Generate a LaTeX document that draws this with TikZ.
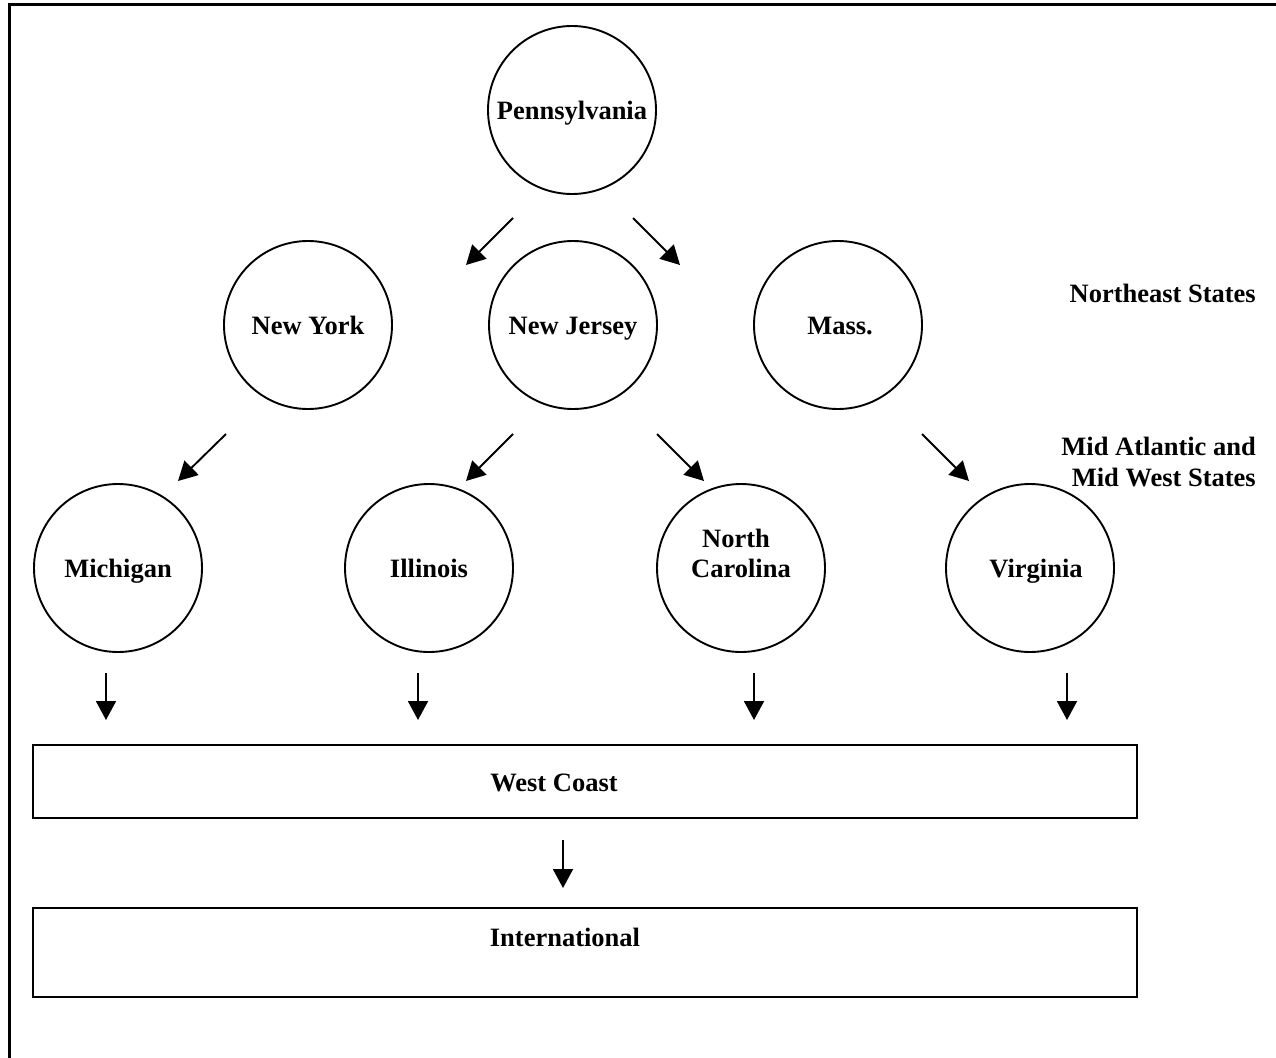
\documentclass[tikz,border=0pt]{standalone}
\usepackage{fontspec}
\setmainfont{Liberation Serif}
\usetikzlibrary{arrows.meta}
\begin{document}
\begin{tikzpicture}[x=1pt,y=-1pt,
  lw/.style={line width=1.9pt},
  st/.style={circle,draw,lw,minimum size=168pt,inner sep=0pt},
  bx/.style={draw,lw,minimum width=1104pt,inner sep=0pt},
  txt/.style={font=\bfseries\fontsize{26.5}{30}\selectfont,anchor=base,inner sep=0pt,align=center},
  lab/.style={font=\bfseries\fontsize{26.5}{30}\selectfont,align=right,anchor=base east,inner sep=0pt},
  arr/.style={lw,-{Triangle[length=19pt,width=20pt]}}]
\useasboundingbox (0,0) rectangle (1276,1057);
\clip (0,0) rectangle (1276,1057);
\draw[line width=2.4pt] (9.5,4.5) rectangle (1300,1080);
% circles
\node[st] (pa) at (572,110) {};
\node[st] (ny) at (308,325) {};
\node[st] (nj) at (573,325) {};
\node[st] (ma) at (838,325) {};
\node[st] (mi) at (118,568) {};
\node[st] (il) at (429,568) {};
\node[st] (nc) at (741,568) {};
\node[st] (va) at (1030,568) {};
% labels inside circles
\node[txt] (pat) at (572,119) {Pennsylvania};
\node[txt] (nyt) at (308,334) {New York};
\node[txt] (njt) at (573,334) {New Jersey};
\node[txt] (mat) at (840,334) {Mass.};
\node[txt] (mit) at (118,577) {Michigan};
\node[txt] (ilt) at (429,577) {Illinois};
\node[txt] (nct1) at (736,547) {North};
\node[txt] (nct2) at (741,577) {Carolina};
\node[txt] (vat) at (1036,577) {Virginia};
% side labels
\node[lab] (ne) at (1256,302) {Northeast States};
\node[lab] (mw1) at (1256,455) {Mid Atlantic and};
\node[lab] (mw2) at (1256,486) {Mid West States};
% boxes
\node[bx,minimum height=73pt] (wc) at (585,781.5) {};
\node[txt] (wct) at (554,791) {West Coast};
\node[bx,minimum height=89pt] (in) at (585,952.5) {};
\node[txt] (int) at (565,946) {International};
% arrow coordinates
\coordinate (a1s) at (513,218); \coordinate (a1e) at (466,265);
\coordinate (a2s) at (633,218); \coordinate (a2e) at (680,265);
\coordinate (a3s) at (226,434); \coordinate (a3e) at (178,481);
\coordinate (a4s) at (513,434); \coordinate (a4e) at (466,481);
\coordinate (a5s) at (657,434); \coordinate (a5e) at (704,481);
\coordinate (a6s) at (922,434); \coordinate (a6e) at (969,481);
\coordinate (d1s) at (106,673); \coordinate (d1e) at (106,720);
\coordinate (d2s) at (418,673); \coordinate (d2e) at (418,720);
\coordinate (d3s) at (754,673); \coordinate (d3e) at (754,720);
\coordinate (d4s) at (1067,673); \coordinate (d4e) at (1067,720);
\coordinate (d5s) at (563,840); \coordinate (d5e) at (563,888);
\foreach \s/\e in {a1s/a1e,a2s/a2e,a3s/a3e,a4s/a4e,a5s/a5e,a6s/a6e,d1s/d1e,d2s/d2e,d3s/d3e,d4s/d4e,d5s/d5e}
  \draw[arr] (\s) -- (\e);
\end{tikzpicture}
\end{document}
